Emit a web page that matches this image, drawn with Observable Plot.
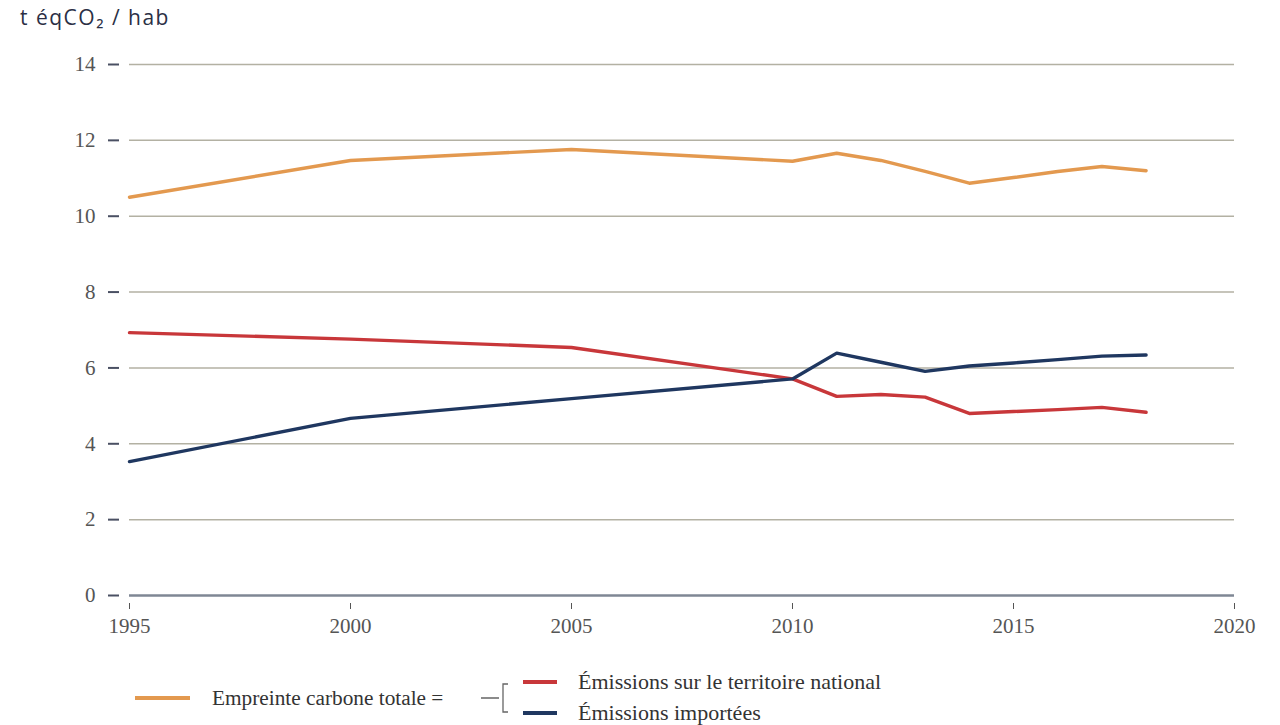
<!DOCTYPE html>
<html>
<head>
<meta charset="utf-8">
<script src="https://cdn.jsdelivr.net/npm/d3@7"></script>
<script src="https://cdn.jsdelivr.net/npm/@observablehq/plot@0.6"></script>
<style>
  html, body { margin: 0; padding: 0; background: #fff; }
  #wrap { position: relative; width: 1280px; height: 725px; overflow: hidden; }
  #title { position: absolute; left: 20px; top: 3px; font-family: "Open Sans", "Noto Sans", sans-serif; font-size: 21px; font-weight: 500; letter-spacing: 1.5px; color: #2b2f45; }
  #chart { position: absolute; left: 0; top: 40px; }
  #legend { position: absolute; left: 0; top: 640px; }
</style>
</head>
<body>
<div id="wrap">
  <div id="title">t éqCO₂ / hab</div>
  <div id="chart"></div>
  <div id="legend"></div>
</div>
<script>
const years    = [1995, 2000, 2005, 2010, 2011, 2012, 2013, 2014, 2015, 2016, 2017, 2018];
const total    = [10.50, 11.47, 11.76, 11.45, 11.66, 11.47, 11.18, 10.87, 11.02, 11.18, 11.31, 11.20];
const national = [6.93, 6.76, 6.54, 5.71, 5.25, 5.30, 5.23, 4.80, 4.85, 4.90, 4.96, 4.83];
const imported = [3.53, 4.67, 5.19, 5.71, 6.39, 6.15, 5.91, 6.05, 6.13, 6.22, 6.31, 6.34];
const seriesNames  = ["Empreinte carbone totale", "Émissions sur le territoire national", "Émissions importées"];
const seriesColors = ["#e3994f", "#c8373a", "#1f3760"];
const yTicks = [0, 2, 4, 6, 8, 10, 12, 14];
const xTicks = [1995, 2000, 2005, 2010, 2015, 2020];
const legendTotalLabel = "Empreinte carbone totale =";

const seriesValues = [total, national, imported];
const data = [];
seriesNames.forEach((name, s) => {
  years.forEach((yr, i) => data.push({ year: yr, value: seriesValues[s][i], series: name }));
});

const chart = Plot.plot({
  width: 1280,
  height: 600,
  marginTop: 24,
  marginBottom: 45,
  marginLeft: 129,
  marginRight: 46,
  x: { domain: [1995, 2020] },
  y: { domain: [0, 14] },
  color: { domain: seriesNames, range: seriesColors },
  style: { fontFamily: "'Liberation Serif', serif", fontSize: "21px", color: "#555", background: "#fff" },
  marks: [
    Plot.gridY(yTicks.filter(d => d !== 0), { stroke: "#b3b1a3", strokeOpacity: 1, strokeWidth: 1.5 }),
    Plot.ruleY([0], { stroke: "#7f8794", strokeWidth: 2.5 }),
    Plot.axisY(yTicks, { tickSize: 11, dx: -10, tickPadding: 13, stroke: "#4a5063", strokeWidth: 2, fill: "#555", label: null }),
    Plot.axisX(xTicks, { tickSize: 6, dy: 8, tickPadding: 9, tickFormat: d => String(d), stroke: "#555", fill: "#555", label: null }),
    Plot.line(data, { x: "year", y: "value", stroke: "series", strokeWidth: 3.4, strokeLinejoin: "round" })
  ]
});
document.getElementById("chart").appendChild(chart);

// Legend
const lg = d3.select("#legend").append("svg").attr("width", 1280).attr("height", 85)
  .style("font-family", "'Liberation Serif', serif");
lg.append("line").attr("x1", 135).attr("x2", 190).attr("y1", 58).attr("y2", 58)
  .attr("stroke", seriesColors[0]).attr("stroke-width", 4);
lg.append("text").attr("x", 212).attr("y", 65).attr("fill", "#333").style("font-size", "21.3px").text(legendTotalLabel);
// bracket
lg.append("path").attr("d", "M481,58 H499 M508,44 H503 V72 H508")
  .attr("fill", "none").attr("stroke", "#666").attr("stroke-width", 1.3);
lg.append("line").attr("x1", 523).attr("x2", 557).attr("y1", 42).attr("y2", 42)
  .attr("stroke", seriesColors[1]).attr("stroke-width", 4);
lg.append("text").attr("x", 578).attr("y", 49).attr("fill", "#333").style("font-size", "22px").text(seriesNames[1]);
lg.append("line").attr("x1", 523).attr("x2", 557).attr("y1", 73).attr("y2", 73)
  .attr("stroke", seriesColors[2]).attr("stroke-width", 4);
lg.append("text").attr("x", 578).attr("y", 80).attr("fill", "#333").style("font-size", "22px").text(seriesNames[2]);
</script>
</body>
</html>
